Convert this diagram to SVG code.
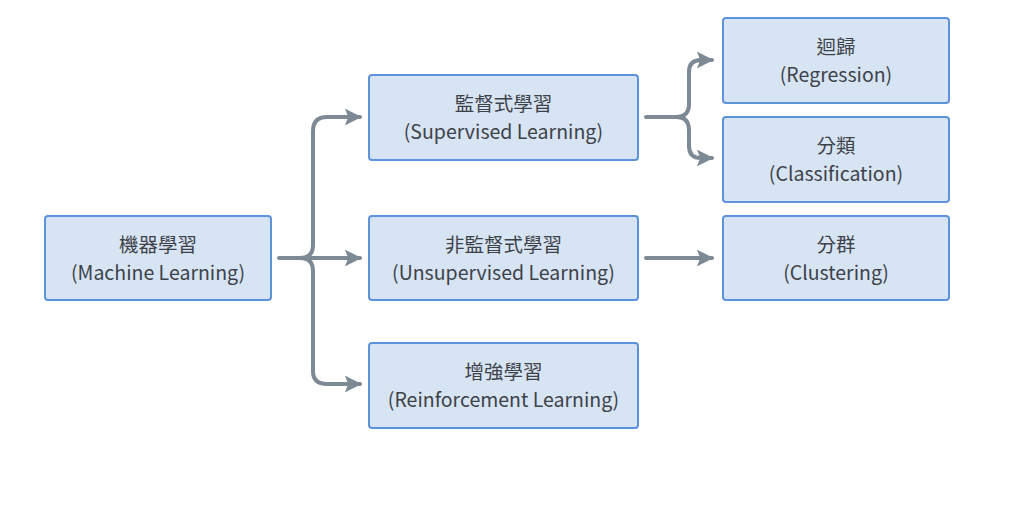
<svg xmlns="http://www.w3.org/2000/svg" width="1024" height="505" viewBox="0 0 1024 505">
<defs>
<style>
.box{fill:#d7e4f4;stroke:#5d93da;stroke-width:2}
.t{font-family:"Noto Sans CJK TC","Noto Sans",sans-serif;font-size:19.5px;font-weight:400;fill:#3d4249;text-anchor:middle}
.c{fill:none;stroke:#7d8995;stroke-width:4;stroke-linecap:round;stroke-linejoin:round}
</style>
<marker id="ah" viewBox="0 0 10 10" refX="9" refY="5" markerWidth="4.2" markerHeight="4.2" markerUnits="strokeWidth" orient="auto">
<path d="M0,0 L10,5 L0,10 L2,5 Z" fill="#7d8995"/>
</marker>
</defs>
<rect width="1024" height="505" fill="#fff"/>
<g id="connectors">
<path class="c" d="M279,258 H300 Q313,258 313,245 V131 Q313,117 327,117 H360" marker-end="url(#ah)"/>
<path class="c" d="M300,258 H360" marker-end="url(#ah)"/>
<path class="c" d="M300,258 Q313,258 313,271 V371 Q313,384 327,384 H360" marker-end="url(#ah)"/>
<path class="c" d="M646,117 H676 Q689,117 689,104 V72 Q689,60 701,60 H712" marker-end="url(#ah)"/>
<path class="c" d="M676,117 Q689,117 689,130 V146 Q689,158 701,158 H712" marker-end="url(#ah)"/>
<path class="c" d="M646,258 H712" marker-end="url(#ah)"/>
</g>
<g id="ml">
<rect class="box" x="45" y="216" width="226" height="84" rx="3"/>
<text class="t" x="158" y="252">機器學習</text>
<text class="t" x="158" y="280">(Machine Learning)</text>
</g>
<g id="supervised">
<rect class="box" x="369" y="75" width="269" height="85" rx="3"/>
<text class="t" x="503.5" y="111">監督式學習</text>
<text class="t" x="503.5" y="139">(Supervised Learning)</text>
</g>
<g id="unsupervised">
<rect class="box" x="369" y="216" width="269" height="84" rx="3"/>
<text class="t" x="503.5" y="252">非監督式學習</text>
<text class="t" x="503.5" y="280">(Unsupervised Learning)</text>
</g>
<g id="reinforcement">
<rect class="box" x="369" y="343" width="269" height="85" rx="3"/>
<text class="t" x="503.5" y="379">增強學習</text>
<text class="t" x="503.5" y="407">(Reinforcement Learning)</text>
</g>
<g id="regression">
<rect class="box" x="723" y="18" width="226" height="85" rx="3"/>
<text class="t" x="836" y="54">迴歸</text>
<text class="t" x="836" y="82">(Regression)</text>
</g>
<g id="classification">
<rect class="box" x="723" y="117" width="226" height="85" rx="3"/>
<text class="t" x="836" y="153">分類</text>
<text class="t" x="836" y="181">(Classification)</text>
</g>
<g id="clustering">
<rect class="box" x="723" y="216" width="226" height="84" rx="3"/>
<text class="t" x="836" y="252">分群</text>
<text class="t" x="836" y="280">(Clustering)</text>
</g>
</svg>
